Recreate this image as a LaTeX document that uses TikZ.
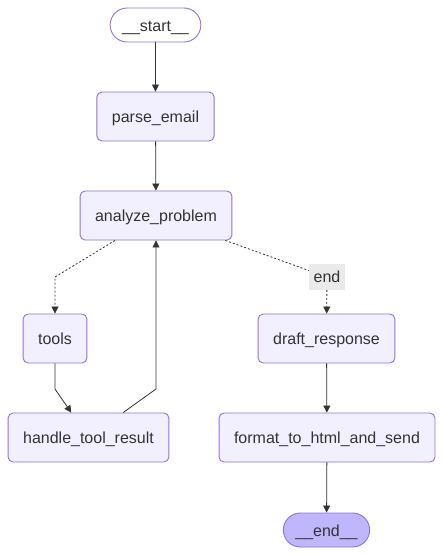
\documentclass[tikz,border=0pt]{standalone}
\usepackage{fontspec}
\setmainfont{Liberation Sans}
\usetikzlibrary{arrows.meta}

\definecolor{nodefill}{HTML}{F2F0FF}
\definecolor{nodeline}{HTML}{9370DB}
\definecolor{endfill}{HTML}{BFB6FC}
\definecolor{edgeline}{HTML}{333333}
\definecolor{labelfill}{HTML}{EAEAEA}

\begin{document}
\begin{tikzpicture}[x=1pt, y=-1pt,
	every node/.style={font=\fontsize{16pt}{19pt}\selectfont, text=edgeline},
	step box/.style={draw=nodeline, fill=nodefill, line width=0.9pt, rounded corners=5pt,
		inner xsep=15pt, minimum height=49pt, text height=16pt, text depth=3.5pt},
	term box/.style={draw=nodeline, line width=0.9pt, rounded corners=17pt,
		inner xsep=12pt, minimum height=34pt, text height=16pt, text depth=3.5pt},
	edge/.style={draw=edgeline, line width=0.8pt, -{Triangle[length=7pt,width=7pt]}},
	dotted edge/.style={edge, dash pattern=on 2pt off 2pt},
	edge label/.style={fill=labelfill, inner xsep=4.5pt, minimum height=24pt,
		text height=15pt, text depth=3.5pt}]
	\useasboundingbox (0,0) rectangle (443,555);

	% nodes
	\node[term box, fill=white] (start) at (155.5, 25) {\_\_start\_\_};
	\node[step box] (parse) at (155.5, 116.5) {parse\_email};
	\node[step box] (analyze) at (156, 215.5) {analyze\_problem};
	\node[step box] (tools) at (55, 338.5) {tools};
	\node[step box] (draft) at (326.5, 338.5) {draft\_response};
	\node[step box] (handle) at (88.5, 437.5) {handle\_tool\_result};
	\node[step box] (format) at (327, 437.5) {format\_to\_html\_and\_send};
	\node[term box, fill=endfill] (end) at (326.5, 530) {\_\_end\_\_};

	% bends
	\coordinate (toolsbend) at (55, 277);
	\coordinate (handlein) at (55, 389);
	\coordinate (handleout) at (156, 389);

	% edges
	\draw[edge] (start) -- (parse);
	\draw[edge] (parse) -- (analyze);
	\draw[dotted edge] (analyze) -- (toolsbend) -- (tools);
	\draw[dotted edge, -] (analyze) -- (327, 277);
	\node[edge label] (endlabel) at (327, 277) {end};
	\draw[dotted edge] (endlabel) -- (draft);
	\draw[edge] (tools) -- (handlein) -- (handle);
	\draw[edge] (handle) -- (handleout) -- (analyze);
	\draw[edge] (draft) -- (format);
	\draw[edge] (format) -- (end);
\end{tikzpicture}
\end{document}
